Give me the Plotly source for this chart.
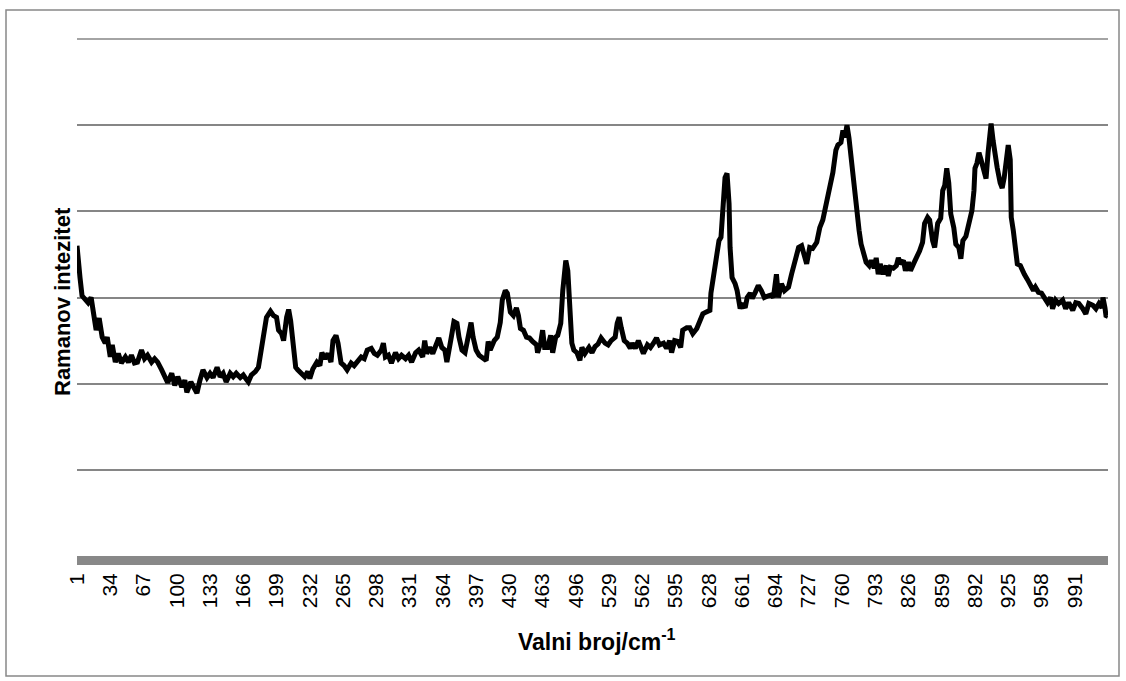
import plotly.graph_objects as go

# kategorije (indeks točke) i očitani Ramanov intenzitet (jedinica = razmak mreže)
idx = [1, 2, 4, 6, 9, 12, 15, 17, 20, 23, 26, 29, 31, 34, 36, 39, 42, 45, 49, 52,
       55, 58, 61, 65, 68, 71, 75, 78, 81, 85, 88, 91, 95, 98, 101, 105, 108, 110, 114, 117,
       120, 123, 126, 130, 133, 136, 140, 143, 146, 149, 153, 156, 159, 163, 166, 169, 171, 174, 178, 181,
       184, 187, 189, 193, 196, 199, 201, 204, 206, 209, 211, 213, 215, 218, 220, 224, 227, 230, 232, 235,
       239, 242, 244, 247, 250, 253, 255, 258, 260, 263, 266, 269, 273, 276, 279, 283, 286, 289, 293, 296,
       299, 303, 305, 307, 310, 313, 317, 320, 323, 327, 330, 333, 337, 340, 344, 346, 348, 351, 354, 358,
       360, 363, 366, 368, 370, 373, 375, 378, 380, 383, 386, 389, 392, 394, 397, 400, 403, 407, 409, 411,
       415, 418, 421, 423, 426, 428, 431, 434, 437, 439, 441, 444, 447, 450, 453, 457, 458, 461, 463, 465,
       468, 471, 473, 476, 478, 481, 483, 485, 486, 488, 490, 492, 494, 497, 500, 502, 505, 509, 512, 515,
       518, 521, 525, 528, 531, 535, 537, 539, 541, 544, 547, 550, 552, 555, 558, 561, 563, 567, 570, 573,
       576, 579, 583, 586, 589, 591, 594, 597, 600, 602, 606, 609, 612, 616, 619, 622, 625, 629, 630, 633,
       635, 638, 640, 642, 644, 646, 648, 649, 651, 654, 656, 659, 661, 664, 666, 669, 671, 674, 677, 680,
       683, 687, 690, 692, 695, 697, 700, 703, 707, 710, 713, 717, 720, 723, 725, 728, 731, 735, 738, 741,
       744, 746, 749, 751, 754, 756, 759, 761, 763, 765, 767, 770, 772, 775, 777, 779, 782, 784, 787, 789,
       792, 794, 796, 798, 801, 804, 806, 808, 811, 814, 816, 818, 821, 823, 826, 828, 831, 834, 837, 840,
       842, 845, 847, 850, 852, 855, 858, 860, 862, 864, 866, 868, 871, 873, 876, 878, 880, 883, 885, 887,
       889, 891, 892, 894, 896, 898, 901, 903, 905, 907, 908, 910, 912, 914, 917, 919, 921, 923, 925, 927,
       928, 930, 932, 934, 937, 939, 941, 944, 946, 950, 952, 955, 958, 961, 964, 967, 969, 972, 975, 979,
       982, 985, 989, 992, 995, 999, 1002, 1005, 1009, 1012, 1015, 1018, 1019, 1021, 1022, 1024]

intenzitet = [3.60, 3.39, 3.23, 3.02, 2.97, 2.94, 3.00, 2.85, 2.62, 2.76, 2.54, 2.47, 2.54, 2.31, 2.45, 2.25, 2.35, 2.24, 2.31, 2.25,
              2.33, 2.24, 2.25, 2.39, 2.29, 2.33, 2.25, 2.29, 2.25, 2.16, 2.07, 2.01, 2.12, 1.98, 2.08, 1.96, 2.04, 1.90, 2.02, 1.95,
              1.89, 2.04, 2.16, 2.07, 2.12, 2.07, 2.19, 2.08, 2.12, 2.02, 2.12, 2.08, 2.12, 2.07, 2.10, 2.05, 2.02, 2.10, 2.14, 2.19,
              2.42, 2.62, 2.77, 2.84, 2.79, 2.77, 2.62, 2.58, 2.50, 2.77, 2.86, 2.73, 2.47, 2.19, 2.16, 2.12, 2.08, 2.14, 2.06, 2.17,
              2.25, 2.21, 2.36, 2.29, 2.35, 2.25, 2.50, 2.56, 2.47, 2.24, 2.21, 2.16, 2.24, 2.21, 2.25, 2.31, 2.29, 2.39, 2.41, 2.35,
              2.33, 2.39, 2.47, 2.31, 2.33, 2.24, 2.36, 2.29, 2.33, 2.29, 2.33, 2.25, 2.36, 2.39, 2.31, 2.50, 2.35, 2.42, 2.35, 2.47,
              2.53, 2.42, 2.39, 2.25, 2.42, 2.58, 2.72, 2.70, 2.54, 2.39, 2.36, 2.54, 2.71, 2.54, 2.39, 2.33, 2.31, 2.27, 2.49, 2.39,
              2.50, 2.54, 2.71, 2.97, 3.08, 3.05, 2.83, 2.79, 2.88, 2.79, 2.64, 2.62, 2.54, 2.53, 2.49, 2.45, 2.36, 2.47, 2.62, 2.42,
              2.42, 2.56, 2.36, 2.54, 2.56, 2.70, 3.08, 3.35, 3.43, 3.31, 2.97, 2.47, 2.39, 2.36, 2.27, 2.42, 2.35, 2.42, 2.36, 2.43,
              2.46, 2.53, 2.47, 2.45, 2.50, 2.54, 2.70, 2.77, 2.65, 2.50, 2.47, 2.41, 2.47, 2.41, 2.50, 2.42, 2.35, 2.45, 2.42, 2.47,
              2.53, 2.45, 2.47, 2.41, 2.50, 2.36, 2.50, 2.49, 2.42, 2.62, 2.65, 2.65, 2.58, 2.64, 2.73, 2.81, 2.83, 2.85, 3.05, 3.31,
              3.39, 3.66, 3.70, 4.01, 4.39, 4.44, 4.09, 3.58, 3.23, 3.16, 3.08, 2.87, 2.93, 2.88, 3.00, 3.05, 2.99, 3.06, 3.14, 3.08,
              3.00, 3.02, 3.03, 3.00, 3.27, 3.00, 3.16, 3.08, 3.12, 3.27, 3.43, 3.58, 3.60, 3.50, 3.39, 3.58, 3.57, 3.64, 3.81, 3.90,
              4.05, 4.16, 4.33, 4.45, 4.71, 4.77, 4.80, 4.94, 4.86, 5.00, 4.85, 4.51, 4.24, 3.97, 3.78, 3.62, 3.46, 3.41, 3.37, 3.43,
              3.34, 3.46, 3.27, 3.39, 3.27, 3.37, 3.25, 3.35, 3.34, 3.37, 3.46, 3.39, 3.43, 3.31, 3.41, 3.31, 3.39, 3.46, 3.54, 3.64,
              3.86, 3.93, 3.90, 3.66, 3.58, 3.86, 3.92, 4.24, 4.30, 4.50, 4.33, 3.97, 3.81, 3.62, 3.58, 3.45, 3.66, 3.71, 3.83, 3.90,
              4.01, 4.24, 4.50, 4.56, 4.68, 4.60, 4.44, 4.38, 4.68, 4.98, 5.02, 4.82, 4.62, 4.51, 4.33, 4.27, 4.39, 4.60, 4.77, 4.60,
              3.93, 3.78, 3.62, 3.39, 3.37, 3.31, 3.27, 3.21, 3.16, 3.08, 3.12, 3.06, 3.05, 3.00, 2.94, 3.00, 2.87, 2.97, 2.93, 2.97,
              2.87, 2.94, 2.85, 2.94, 2.93, 2.87, 2.81, 2.93, 2.91, 2.87, 2.93, 2.88, 3.00, 2.88, 2.79, 2.78]

oznake = list(range(1, 1024, 33))

fig = go.Figure()
fig.add_trace(go.Scatter(x=idx, y=intenzitet, mode="lines",
                         line=dict(color="black", width=5), hoverinfo="skip"))

W, H = 1126, 681
L, R, T, B = 77, 18, 39, 125
pw, ph = W - L - R, H - T - B


def px(xp):
    return (xp - L) / pw


def py(yp):
    return (H - B - yp) / ph


fig.update_layout(
    width=W, height=H,
    margin=dict(l=L, r=R, t=T, b=B),
    paper_bgcolor="white", plot_bgcolor="white",
    showlegend=False,
    font=dict(family="Liberation Sans, Arial, sans-serif", color="black"),
    xaxis=dict(range=[1, 1024], tickvals=oznake, ticktext=[str(v) for v in oznake],
               tickangle=-90, tickfont=dict(size=21), showgrid=False, zeroline=False,
               showline=False, ticks="", ticklabelstandoff=12),
    yaxis=dict(range=[0, 6], dtick=1, showticklabels=False, showgrid=True,
               gridcolor="#868686", gridwidth=1.5, zeroline=False, showline=False, ticks=""),
    shapes=[
        dict(type="rect", xref="paper", yref="paper", x0=px(6), x1=px(1119), y0=py(676), y1=py(10),
             line=dict(color="#888888", width=1.5), fillcolor="rgba(0,0,0,0)", layer="below"),
        dict(type="line", xref="paper", yref="paper", x0=0, x1=1, y0=1, y1=1,
             line=dict(color="#868686", width=1.5), layer="below"),
        dict(type="rect", xref="paper", yref="paper", x0=0, x1=1, y0=py(565), y1=0,
             line=dict(width=0), fillcolor="#888888", layer="above"),
    ],
    annotations=[
        dict(text="Valni broj/cm<sup>-1</sup>", xref="paper", yref="paper",
             x=px(597), y=py(640), xanchor="center", yanchor="middle", showarrow=False,
             font=dict(size=23, weight="bold")),
        dict(text="Ramanov intezitet", xref="paper", yref="paper",
             x=px(62), y=py(302), xanchor="center", yanchor="middle", textangle=-90,
             showarrow=False, font=dict(size=22, weight="bold")),
    ],
)

# bez ruba stranice, da graf počinje u kutu prozora
fig.write_html("out.html", config={"displayModeBar": False},
               post_script="document.body.style.margin='0';")
